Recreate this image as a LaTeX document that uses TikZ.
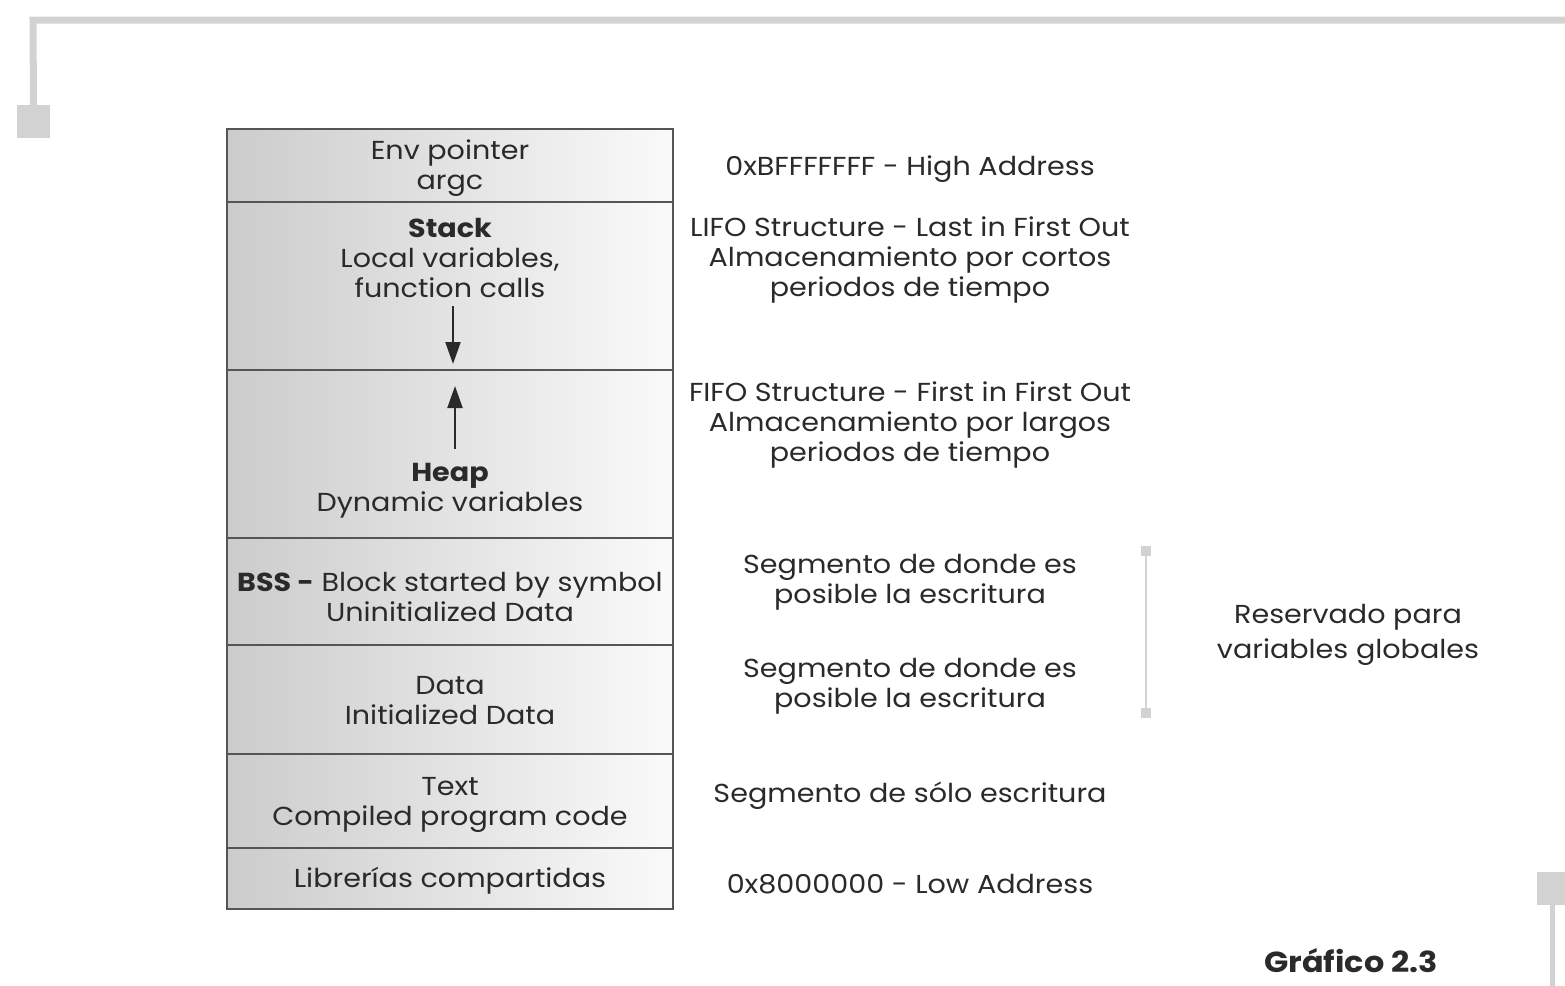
\documentclass[tikz,border=0pt]{standalone}
\usepackage{fontspec}
\setmainfont{Poppins}[FakeStretch=1.1]
\usetikzlibrary{arrows.meta}
\definecolor{txt}{HTML}{2A2A2A}
\definecolor{frame}{HTML}{D2D2D2}
\definecolor{cellline}{HTML}{555555}
\tikzset{
  cell/.style={rectangle, draw=cellline, line width=2.2pt, left color=black!20, right color=black!2, minimum width=446pt, inner sep=0pt},
  lbl/.style={text=txt, align=center, inner sep=0pt, font=\fontsize{26}{30}\selectfont},
  arr/.style={-{Triangle[length=22pt,width=15pt]}, line width=2.2pt, draw=txt},
  framel/.style={draw=frame, line width=7pt},
  framesq/.style={fill=frame, draw=none, rectangle, inner sep=0pt},
}
\begin{document}
\begin{tikzpicture}[x=1pt,y=-1pt]
\useasboundingbox (0,0) rectangle (1565,985);
% frame decorations
\node[framesq, minimum width=33pt, minimum height=33pt] (sqA) at (33.5,121.5) {};
\coordinate (fA) at (33,20);
\coordinate (fB) at (1570,20);
\draw[framel] (sqA.north) -- (fA) -- (fB);
\node[framesq, minimum width=30pt, minimum height=33pt] (sqB) at (1552,888.5) {};
\coordinate (fC) at (1552,990);
\draw[framel, line width=5pt] (sqB.south) -- (fC);
% memory cells
\node[cell, minimum height=73pt] (env) at (450,165.5) {};
\node[cell, minimum height=168pt] (stack) at (450,286) {};
\node[cell, minimum height=168pt] (heap) at (450,454) {};
\node[cell, minimum height=107pt] (bss) at (450,591.5) {};
\node[cell, minimum height=109pt] (data) at (450,699.5) {};
\node[cell, minimum height=94pt] (text) at (450,801) {};
\node[cell, minimum height=61pt] (libs) at (450,878.5) {};
% cell texts
\node[lbl] (tenv) at (450,168) {Env pointer\\argc};
\node[lbl] (tstack) at (450,258) {\textbf{Stack}\\Local variables,\\function calls};
\coordinate (sa1) at (453,306);
\coordinate (sa2) at (453,364);
\draw[arr] (sa1) -- (sa2);
\coordinate (ha1) at (455,449);
\coordinate (ha2) at (455,386);
\draw[arr] (ha1) -- (ha2);
\node[lbl] (theap) at (450,491) {\textbf{Heap}\\Dynamic variables};
\node[lbl] (tbss) at (450,597) {\textbf{BSS -} Block started by symbol\\Uninitialized Data};
\node[lbl] (tdata) at (450,701) {Data\\Initialized Data};
\node[lbl] (ttext) at (450,805) {Text\\Compiled program code};
\node[lbl] (tlibs) at (450,881) {Librerías compartidas};
% right descriptions
\node[lbl] (r1) at (910,169) {0xBFFFFFFF - High Address};
\node[lbl] (r2) at (910,260) {LIFO Structure - Last in First Out\\Almacenamiento por cortos\\periodos de tiempo};
\node[lbl] (r3) at (910,425) {FIFO Structure - First in First Out\\Almacenamiento por largos\\periodos de tiempo};
\node[lbl] (r4) at (910,582) {Segmento de donde es\\posible la escritura};
\node[lbl] (r5) at (910,686) {Segmento de donde es\\posible la escritura};
\node[lbl] (r6) at (910,796) {Segmento de sólo escritura};
\node[lbl] (r7) at (910,884) {0x8000000 - Low Address};
% bracket
\node[framesq, minimum width=10pt, minimum height=10pt] (b1) at (1146,551) {};
\node[framesq, minimum width=10pt, minimum height=10pt] (b2) at (1146,713) {};
\draw[draw=frame, line width=2pt] (b1) -- (b2);
\node[lbl, font=\fontsize{26}{35}\selectfont] (glob) at (1348,635) {Reservado para\\variables globales};
% caption
\node[lbl, font=\fontsize{29}{30}\selectfont\bfseries] (cap) at (1351,961) {Gráfico 2.3};
\end{tikzpicture}
\end{document}
